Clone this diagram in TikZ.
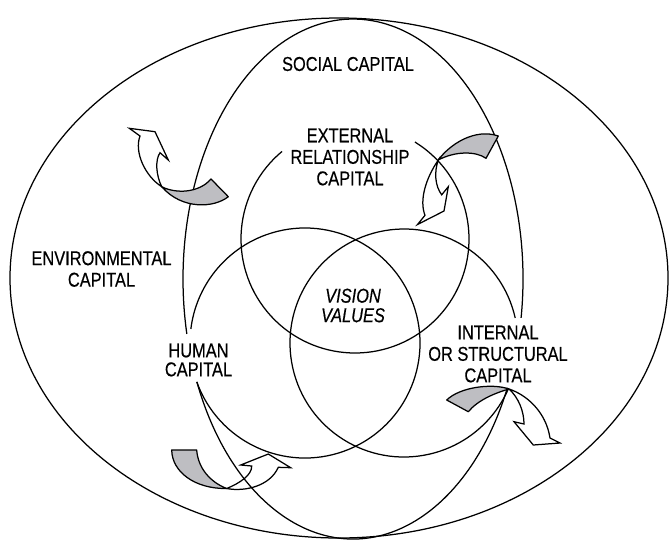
\documentclass[tikz,border=0pt]{standalone}
\usepackage{fontspec}
\setmainfont{Liberation Sans}[FakeStretch=0.82,FakeBold=0.4]
\definecolor{bandgrey}{RGB}{190,190,194}
\begin{document}
\begin{tikzpicture}[x=1pt,y=-1pt,line width=1.25pt,
  lbl/.style={font=\fontsize{20}{21.5}\selectfont,align=center,inner sep=0pt},
  band/.style={fill=bandgrey,draw=black,line join=round},
  ribbon/.style={draw=black,line join=miter}]
\useasboundingbox (0,0) rectangle (669,542);
% centres
\coordinate (oc) at (339,278);
\coordinate (sc) at (353,279);
\coordinate (ec) at (355,239);
\coordinate (hc) at (305,343);
\coordinate (ic) at (404,343);
% outer ellipse
\draw (oc) ellipse [x radius=329pt,y radius=260pt];
% social capital ellipse (with gaps at the labels)
\draw (sc) ++(-8.6:170pt and 260pt) arc[start angle=-8.6,end angle=192.2,x radius=170pt,y radius=260pt];
\draw (sc) ++(203.3:170pt and 260pt) arc[start angle=203.3,end angle=335,x radius=170pt,y radius=260pt];
% external relationship circle
\draw (ec) ++(129.8:114pt) arc[start angle=129.8,end angle=418.3,radius=114pt];
% human circle
\draw (hc) ++(199.8:115pt) arc[start angle=199.8,end angle=533,radius=115pt];
% internal circle
\draw (ic) ++(12.7:114pt) arc[start angle=12.7,end angle=336.2,radius=114pt];
% twist points
\coordinate (t1) at (161.7,186.7);
\coordinate (t2) at (438.3,160);
\coordinate (t3) at (226.7,488.5);
\coordinate (t4) at (509,389);
% arrow 1
\draw[band] (t1) .. controls (176,194) and (199,193) .. (211,179) -- (228.3,196.7) .. controls (214,208) and (182,210) .. (t1) -- cycle;
\draw[ribbon] (t1) .. controls (145,176) and (134,152) .. (140,136) -- (129.3,128.3) -- (155,131.7) -- (168.3,160) -- (160,152.7) .. controls (155,160) and (156,175) .. (t1) -- cycle;
% arrow 2
\draw[band] (t2) .. controls (450,144) and (475,128) .. (498.3,136) -- (486,158.3) .. controls (476,151) and (455,151) .. (t2) -- cycle;
\draw[ribbon] (t2) .. controls (426,178) and (419,200) .. (425,215.3) -- (417.5,224.5) -- (444,211) -- (448.3,186.7) -- (441.7,194.8) .. controls (435,186) and (434,172) .. (t2) -- cycle;
% arrow 3
\draw[band] (171.7,450) .. controls (172,472) and (195,489) .. (t3) .. controls (210,482) and (198,468) .. (196.7,450) -- cycle;
\draw[ribbon] (t3) .. controls (240,483) and (252,475) .. (251.7,466) -- (240.7,465) -- (268.3,454) -- (290.7,467.7) -- (278.3,467.3) .. controls (270,486) and (245,492) .. (t3) -- cycle;
% arrow 4
\draw[band] (446.7,400) .. controls (460,387) and (492,383) .. (t4) .. controls (495,393) and (478,400) .. (468.3,411.7) -- cycle;
\draw[ribbon] (t4) .. controls (519,398) and (524,412) .. (524,424) -- (514,421.7) -- (533.3,445) -- (560,443) -- (550,438) .. controls (546,412) and (527,395) .. (t4) -- cycle;
% labels
\node[lbl] (social) at (348,64) {SOCIAL CAPITAL};
\node[lbl] (external) at (350,157) {EXTERNAL\\RELATIONSHIP\\CAPITAL};
\node[lbl] (environ) at (101.5,269) {ENVIRONMENTAL\\CAPITAL};
\node[lbl] (human) at (198.5,360) {HUMAN\\[-2.5pt]CAPITAL};
\node[lbl] (internal) at (498,354) {INTERNAL\\OR STRUCTURAL\\CAPITAL};
\node[lbl,font=\fontsize{20}{19.5}\selectfont\itshape] (vision) at (353,305.5) {VISION\\VALUES};
\end{tikzpicture}
\end{document}
